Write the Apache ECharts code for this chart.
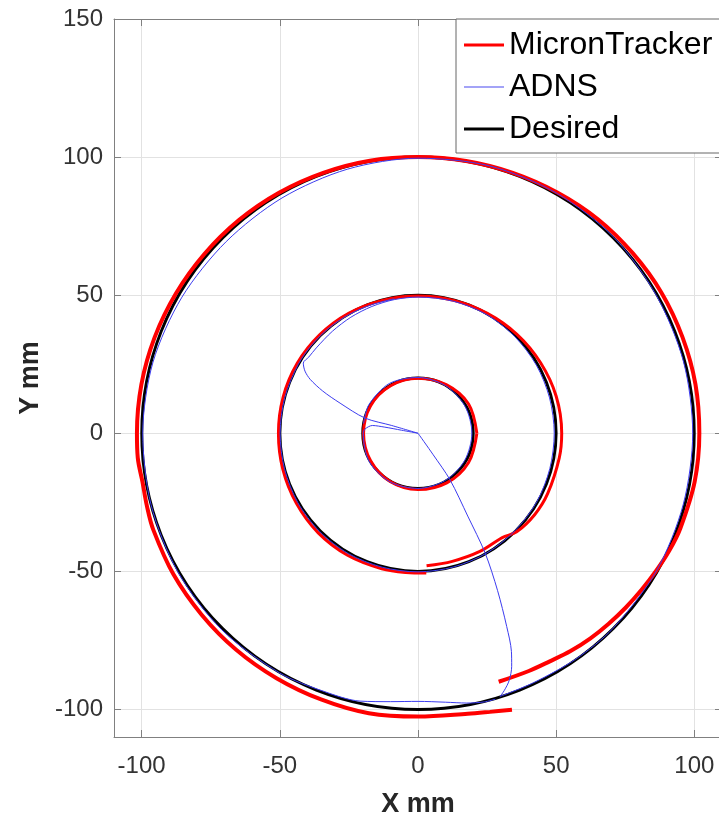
<!DOCTYPE html>
<html>
<head>
<meta charset="utf-8">
<script src="https://cdn.jsdelivr.net/npm/echarts@6/dist/echarts.min.js"></script>
<style>html,body{margin:0;padding:0;background:#fff}#c{width:719px;height:814px}</style>
</head>
<body>
<div id="c"></div>
<script>
// ---- data (mm) ----
const xTicks = [-100, -50, 0, 50, 100];
const yTicks = [-100, -50, 0, 50, 100, 150];
const desiredRadii = [20, 50, 100];

const redInner = [[21.3,0],[18.3,10.6],[10.2,17.6],[0,19.9],[-9.9,17.2],[-17.2,9.9],[-19.7,0],[-17.2,-9.9],[-10.1,-17.5],[0,-20.4],[10.4,-18.0],[18.3,-10.6],[21.3,0]];
const redMiddle = [[3.1,-48.0],[12.4,-46.4],[22.4,-42.8],[30.5,-37.8],[35.7,-35.7],[42.2,-29.5],[46.9,-21.9],[51.1,-9.0],[52.0,0],[50.0,13.4],[44.3,25.6],[35.8,35.8],[25.1,43.4],[12.9,48.1],[0,49.7],[-12.9,48.1],[-25.1,43.4],[-35.6,35.6],[-43.7,25.3],[-48.8,13.1],[-50.5,0],[-48.9,-13.1],[-44.0,-25.4],[-36.1,-36.1],[-25.5,-44.2],[-13.1,-49.1],[-4.4,-50.4],[3.0,-50.6]];
const redOuter = [[29.2,-90.0],[40.1,-86.1],[47.7,-82.6],[55.2,-78.9],[62.4,-74.3],[69.0,-69.0],[75.2,-63.1],[80.9,-56.7],[86.2,-49.8],[91.0,-42.4],[94.9,-34.5],[100.1,-17.6],[101.8,0],[100.4,17.7],[95.7,34.8],[88.1,50.9],[77.7,65.2],[65.1,77.5],[50.4,87.2],[34.3,94.3],[17.4,98.6],[0,100.0],[-17.4,98.7],[-34.3,94.3],[-50.3,87.1],[-64.8,77.2],[-77.3,64.9],[-87.6,50.6],[-95.3,34.7],[-100.1,17.6],[-101.7,0],[-101.4,-8.9],[-99.7,-17.6],[-98.1,-26.3],[-95.8,-34.9],[-88.5,-51.1],[-78.3,-65.7],[-65.8,-78.4],[-51.2,-88.7],[-35.1,-96.4],[-17.8,-101.4],[0,-102.6],[18.0,-101.6],[26.0,-100.9],[34.0,-100.1]];

const blueInner = [[0,0],[-6,1.1],[-12,2.2],[-16.5,2.8],[-19.2,1.5],[-19.8,0],[-17.7,-10.2],[-10.2,-17.6],[0,-20],[9.9,-17.1],[16.9,-9.8],[19.5,0],[17.0,9.8],[10.0,17.2],[0,20.2],[-10.4,18.0],[-17.8,10.3],[-19.7,3.5]];
const blueMiddle = [[0,0],[-9.5,2.8],[-19.2,5.5],[-28.2,10.9],[-34.5,15.3],[-39.0,19.5],[-40.9,22.5],[-41.5,25.4],[-39.5,27.6],[-36.8,30.9],[-31.0,36.9],[-24.3,42.0],[-16.7,45.9],[-8.5,48.4],[0,49.3],[12.8,47.8],[24.8,43.0],[35.0,35.0],[42.8,24.7],[47.6,12.8],[49.3,0],[47.7,-12.8],[43.0,-24.8],[35.2,-35.2],[25.0,-43.3],[13.0,-48.4],[0,-50.2],[-13.0,-48.5],[-25.2,-43.6],[-35.6,-35.6],[-43.5,-25.1],[-48.3,-12.9],[-49.9,0],[-48.2,12.9],[-43.3,25.0],[-38.3,32.1],[-32.1,38.2],[-24.9,43.0],[-16.9,46.5],[-8.6,48.7]];
const blueOuter = [[0,0],[5.5,-7.8],[11.6,-16.9],[18.0,-30.0],[24.3,-43.4],[28.8,-57.0],[32.1,-70.0],[33.8,-79.0],[33.9,-84.4],[33.0,-89.5],[31.2,-93.2],[29.7,-95.3],[42.1,-90.2],[57.2,-81.7],[70.6,-70.6],[86.3,-49.8],[96.0,-25.7],[99.4,0],[96.1,25.8],[86.3,49.8],[70.9,70.9],[50.2,86.9],[25.9,96.8],[0,99.6],[-25.6,95.6],[-49.2,85.2],[-69.4,69.4],[-85.4,49.3],[-95.9,25.7],[-99.6,0],[-96.6,-25.9],[-86.9,-50.2],[-71.1,-71.1],[-50.1,-86.8],[-34.0,-93.5],[-21.0,-97.0],[-10.0,-97.2],[0,-97.1],[10.0,-97.4],[17.6,-97.7],[24.0,-97.3],[28.0,-96.3]];

// ---- styles ----
const RED = '#ff0000', BLUE = '#3c3cf0', BLACK = '#000000';
const AXIS = '#808080', LABEL = '#333333', GRID = '#e2e2e2';
const FONT = '"Liberation Sans", Arial, Helvetica, sans-serif';

function redSeries(d, w) {
  return { name: 'MicronTracker', type: 'line', data: d, smooth: 0.35, symbol: 'none', showSymbol: false,
    lineStyle: { color: RED, width: w }, itemStyle: { color: RED }, emphasis: { disabled: true }, silent: true };
}
function blueSeries(d) {
  return { name: 'ADNS', type: 'line', data: d, smooth: 0.3, symbol: 'none', showSymbol: false,
    lineStyle: { color: BLUE, width: 1 }, itemStyle: { color: BLUE }, emphasis: { disabled: true }, silent: true };
}

const tickFmt = list => v => (list.indexOf(Math.round(v)) >= 0 && Math.abs(v - Math.round(v)) < 1e-6 ? String(v) : '');

const chart = echarts.init(document.getElementById('c'), null, { renderer: 'canvas' });
chart.setOption({
  animation: false,
  backgroundColor: '#fff',
  grid: { left: 114, top: 19, width: 608, height: 718, containLabel: false, outerBoundsMode: 'none' },
  legend: {
    orient: 'vertical', left: 456, top: 19,
    padding: [10, 40, 8, 8], itemGap: 10, itemWidth: 40, itemHeight: 14,
    backgroundColor: '#fff', borderColor: '#666', borderWidth: 1, borderRadius: 0,
    textStyle: { fontSize: 32, color: '#000', fontFamily: FONT },
    selectedMode: false,
    data: [
      { name: 'MicronTracker', icon: 'path://M0,0L40,0L40,3L0,3Z', itemStyle: { color: RED } },
      { name: 'ADNS', icon: 'path://M0,0L40,0L40,1.5L0,1.5Z', itemStyle: { color: '#8585f5' } },
      { name: 'Desired', icon: 'path://M0,0L40,0L40,3L0,3Z', itemStyle: { color: BLACK } }
    ]
  },
  xAxis: [
    { type: 'value', min: -110, max: 110, position: 'bottom',
      name: 'X mm', nameLocation: 'middle', nameGap: 54,
      nameTextStyle: { fontSize: 27, fontWeight: 'bold', color: '#262626', fontFamily: FONT },
      axisLine: { show: true, onZero: false, lineStyle: { color: AXIS, width: 1 } },
      axisTick: { show: true, inside: true, length: 7, lineStyle: { color: AXIS } },
      axisLabel: { formatter: tickFmt(xTicks), fontSize: 24, color: LABEL, margin: 17, fontFamily: FONT, showMinLabel: true, showMaxLabel: true },
      splitLine: { show: true, lineStyle: { color: GRID, width: 1 } } },
    { type: 'value', min: -110, max: 110, position: 'top',
      axisLine: { show: true, onZero: false, lineStyle: { color: AXIS, width: 1 } },
      axisTick: { show: true, inside: true, length: 7, lineStyle: { color: AXIS } },
      axisLabel: { show: false }, splitLine: { show: false } }
  ],
  yAxis: [
    { type: 'value', min: -110, max: 150, position: 'left',
      name: 'Y mm', nameLocation: 'middle', nameGap: 69,
      nameTextStyle: { fontSize: 27, fontWeight: 'bold', color: '#262626', fontFamily: FONT },
      axisLine: { show: true, onZero: false, lineStyle: { color: AXIS, width: 1 } },
      axisTick: { show: true, inside: true, length: 7, lineStyle: { color: AXIS } },
      axisLabel: { formatter: tickFmt(yTicks), fontSize: 24, color: LABEL, margin: 11, fontFamily: FONT },
      splitLine: { show: true, lineStyle: { color: GRID, width: 1 } } },
    { type: 'value', min: -110, max: 150, position: 'right',
      axisLine: { show: true, onZero: false, lineStyle: { color: AXIS, width: 1 } },
      axisTick: { show: true, inside: true, length: 7, lineStyle: { color: AXIS } },
      axisLabel: { show: false }, splitLine: { show: false } }
  ],
  series: [
    redSeries(redInner, 3),
    redSeries(redMiddle, 3),
    redSeries(redOuter, 4),
    blueSeries(blueInner),
    blueSeries(blueMiddle),
    blueSeries(blueOuter),
    {
      name: 'Desired', type: 'custom', silent: true,
      itemStyle: { color: BLACK },
      encode: { x: 0, y: 1 },
      data: desiredRadii.map(r => [0, 0, r]),
      renderItem: function (params, api) {
        const c = api.coord([api.value(0), api.value(1)]);
        const s = api.size([api.value(2), api.value(2)]);
        return { type: 'circle', shape: { cx: c[0], cy: c[1], r: (s[0] + s[1]) / 2 },
          style: { fill: 'none', stroke: BLACK, lineWidth: 2.9 } };
      }
    }
  ]
});
</script>
</body>
</html>
